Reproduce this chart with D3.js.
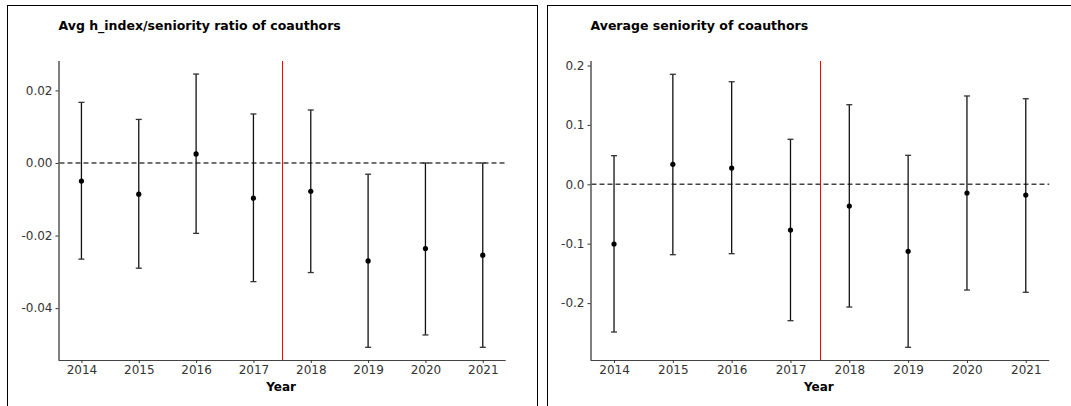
<!DOCTYPE html>
<html><head><meta charset="utf-8">
<script src="https://cdn.jsdelivr.net/npm/d3@7"></script>
<style>html,body{margin:0;padding:0;background:#fff;} svg{display:block;}</style>
</head><body>
<svg id="chart" width="1071" height="406"></svg>
<script>
const years = [2014, 2015, 2016, 2017, 2018, 2019, 2020, 2021];

const ratioTitle = "Avg h_index/seniority ratio of coauthors";
const ratioEst  = [-0.0050, -0.0086, 0.0025, -0.0097, -0.0078, -0.0270, -0.0236, -0.0254];
const ratioLow  = [-0.0265, -0.0290, -0.0194, -0.0327, -0.0302, -0.0508, -0.0474, -0.0508];
const ratioHigh = [ 0.0167,  0.0120, 0.0245,  0.0135,  0.0146, -0.0031,  0.0000,  0.0000];
const ratioTicks = [0.02, 0.00, -0.02, -0.04];
const ratioTickLabels = ["0.02", "0.00", "-0.02", "-0.04"];

const senTitle = "Average seniority of coauthors";
const senEst  = [-0.1005, 0.0337, 0.0274, -0.0769, -0.0365, -0.1128, -0.0146, -0.0180];
const senLow  = [-0.2487, -0.1185, -0.1168, -0.2296, -0.2066, -0.2744, -0.1780, -0.1818];
const senHigh = [ 0.0482, 0.1852, 0.1727, 0.0758, 0.1340, 0.0488, 0.1487, 0.1441];
const senTicks = [0.2, 0.1, 0.0, -0.1, -0.2];
const senTickLabels = ["0.2", "0.1", "0.0", "-0.1", "-0.2"];

const xLabel = "Year";
const cutoff = 2017.5;

const svg = d3.select("#chart");
const FONT = "'DejaVu Sans', sans-serif";

function panel(cfg) {
  const g = svg.append("g");
  g.append("rect")
    .attr("x", cfg.box[0] + 0.5).attr("y", cfg.box[1] + 0.5)
    .attr("width", cfg.box[2]).attr("height", cfg.box[3])
    .attr("fill", "none").attr("stroke", "#000").attr("stroke-width", 1);

  const x = d3.scaleLinear().domain([2013.6, 2021.4]).range([cfg.left, cfg.right]);
  const y = d3.scaleLinear().domain(cfg.ydom).range([cfg.bottom, cfg.top]);

  g.append("text").attr("x", cfg.left).attr("y", 30)
    .attr("font-family", FONT).attr("font-weight", "bold").attr("font-size", 12.5)
    .attr("fill", "#000").text(cfg.title);

  const yAxis = d3.axisLeft(y).tickValues(cfg.ticks)
    .tickFormat((d, i) => cfg.tickLabels[i]).tickSize(3).tickPadding(3);
  const ga = g.append("g").attr("transform", `translate(${cfg.left},0)`).call(yAxis);
  ga.select(".domain").attr("d", `M0.5,${cfg.top}V${cfg.bottom}`).attr("stroke", "#000");
  ga.selectAll(".tick line").attr("stroke", "#333");
  ga.selectAll("text").attr("font-family", FONT).attr("font-size", 12).attr("fill", "#333");

  const xAxis = d3.axisBottom(x).tickValues(years).tickFormat(d3.format("d"))
    .tickSize(3).tickPadding(2);
  const gx = g.append("g").attr("transform", `translate(0,${cfg.bottom})`).call(xAxis);
  gx.select(".domain").attr("d", `M${cfg.left},0.5H${cfg.right}`).attr("stroke", "#444");
  gx.selectAll(".tick line").attr("stroke", "#333");
  gx.selectAll("text").attr("font-family", FONT).attr("font-size", 12).attr("fill", "#333");

  g.append("text").attr("x", (cfg.left + cfg.right) / 2 - 1).attr("y", 391)
    .attr("text-anchor", "middle").attr("font-family", FONT)
    .attr("font-weight", "bold").attr("font-size", 12).attr("fill", "#000").text(xLabel);

  g.append("line").attr("x1", cfg.left + 1).attr("x2", cfg.right)
    .attr("y1", y(0)).attr("y2", y(0))
    .attr("stroke", "#444").attr("stroke-width", 1.5).attr("stroke-dasharray", "5,3");

  const cx = Math.round(x(cutoff)) + 0.5;
  g.append("line").attr("x1", cx).attr("x2", cx)
    .attr("y1", cfg.top).attr("y2", cfg.bottom)
    .attr("stroke", "#ff0000").attr("stroke-width", 1);

  const rows = years.map((yr, i) => ({yr, est: cfg.est[i], lo: cfg.lo[i], hi: cfg.hi[i]}));
  const eb = g.append("g").selectAll("g").data(rows).join("g");
  eb.append("line").attr("x1", d => x(d.yr)).attr("x2", d => x(d.yr))
    .attr("y1", d => y(d.lo)).attr("y2", d => y(d.hi))
    .attr("stroke", "#111").attr("stroke-width", 1.3);
  eb.append("line").attr("x1", d => x(d.yr) - 3).attr("x2", d => x(d.yr) + 3)
    .attr("y1", d => y(d.lo)).attr("y2", d => y(d.lo))
    .attr("stroke", "#333").attr("stroke-width", 1.3);
  eb.append("line").attr("x1", d => x(d.yr) - 3).attr("x2", d => x(d.yr) + 3)
    .attr("y1", d => y(d.hi)).attr("y2", d => y(d.hi))
    .attr("stroke", "#333").attr("stroke-width", 1.3);
  eb.append("circle").attr("cx", d => x(d.yr)).attr("cy", d => y(d.est))
    .attr("r", 2.6).attr("fill", "#000");
}

panel({
  box: [7, 5, 530, 420], left: 58.5, right: 505.7, top: 61, bottom: 360,
  ydom: [-0.0543, 0.0281], title: ratioTitle,
  est: ratioEst, lo: ratioLow, hi: ratioHigh,
  ticks: ratioTicks, tickLabels: ratioTickLabels
});
panel({
  box: [547, 5, 540, 420], left: 590.5, right: 1049.3, top: 61, bottom: 360,
  ydom: [-0.2958, 0.2076], title: senTitle,
  est: senEst, lo: senLow, hi: senHigh,
  ticks: senTicks, tickLabels: senTickLabels
});
</script>
</body></html>
